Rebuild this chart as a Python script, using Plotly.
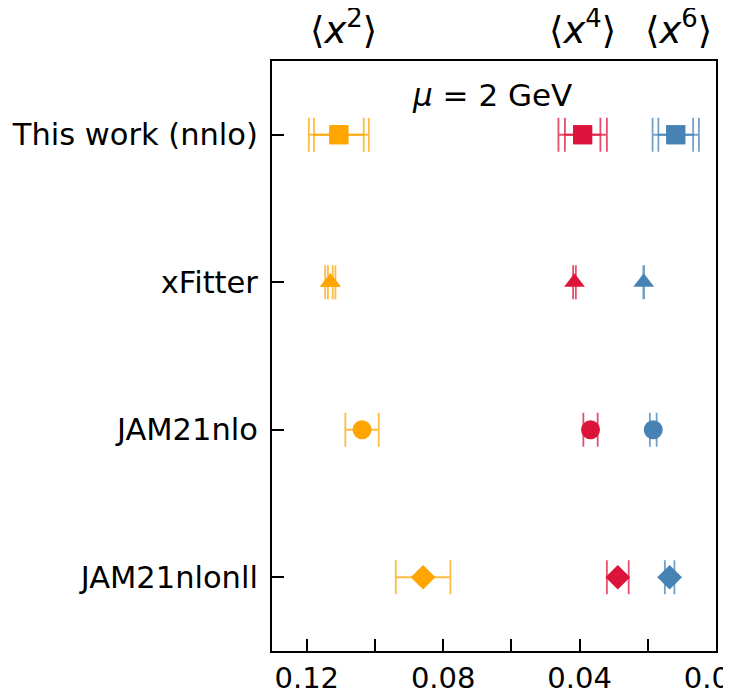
import plotly.graph_objects as go

methods = ["This work (nnlo)", "xFitter", "JAM21nlo", "JAM21nlonll"]
symbols = ["square", "triangle-up", "circle", "diamond"]
sizes = [19, 18, 19, 19]

x2 = [0.1106, 0.1131, 0.1038, 0.0859]
x2_err = [0.0088, 0.0015, 0.0049, 0.0080]
x2_err_in = [0.0073, 0.0007, None, None]

x4 = [0.0391, 0.0415, 0.0368, 0.0288]
x4_err = [0.0071, 0.0004, 0.0021, 0.0032]
x4_err_in = [0.0052, None, None, None]

x6 = [0.0118, 0.0212, 0.0184, 0.0136]
x6_err = [0.0068, 0.0001, 0.0010, 0.0014]
x6_err_in = [0.0051, None, None, None]

xticks = [0.12, 0.10, 0.08, 0.06, 0.04, 0.02, 0.00]
xticktext = ["0.12", "", "0.08", "", "0.04", "", "0.00"]

moments = [
    ("x2", x2, x2_err, x2_err_in, "#FFA500", "rgba(255,165,0,0.75)"),
    ("x4", x4, x4_err, x4_err_in, "#DC143C", "rgba(220,20,60,0.75)"),
    ("x6", x6, x6_err, x6_err_in, "#4682B4", "rgba(70,130,180,0.75)"),
]

ypos = list(range(len(methods)))

fig = go.Figure()
for name, vals, err, err_in, col, ecol in moments:
    fig.add_trace(go.Scatter(
        x=vals, y=ypos, mode="markers", showlegend=False,
        marker=dict(symbol=symbols, size=sizes, color=col, opacity=1,
                    line=dict(width=0)),
        error_x=dict(type="data", array=err, symmetric=True, color=ecol,
                     thickness=1.8, width=17),
    ))
    idx = [i for i, e in enumerate(err_in) if e is not None]
    fig.add_trace(go.Scatter(
        x=[vals[i] for i in idx], y=[ypos[i] for i in idx], mode="markers",
        showlegend=False,
        marker=dict(symbol=[symbols[i] for i in idx], size=[sizes[i] for i in idx],
                    color=col, opacity=1, line=dict(width=0)),
        error_x=dict(type="data", array=[err_in[i] for i in idx], symmetric=True,
                     color=ecol, thickness=1.8, width=17),
    ))

font_fam = "DejaVu Sans"
labels = [("⟨<i>x</i><sup>2</sup>⟩", 0.1093), ("⟨<i>x</i><sup>4</sup>⟩", 0.0392),
          ("⟨<i>x</i><sup>6</sup>⟩", 0.0110)]
for txt, xv in labels:
    fig.add_annotation(x=xv, xref="x", y=1.057, yref="paper", text=txt,
                       showarrow=False, yanchor="middle",
                       font=dict(family=font_fam, size=37, color="black"))
fig.add_annotation(x=0.0658, xref="x", y=0.942, yref="paper",
                   text="<i>μ</i> = 2 GeV", showarrow=False, yanchor="middle",
                   font=dict(family=font_fam, size=31, color="black"))

# page body has an 8px default margin; compensate so the plot box lands
# where it is in the reference
fig.update_layout(
    width=723, height=684,
    margin=dict(l=264, r=15, t=53, b=41, autoexpand=False),
    paper_bgcolor="white", plot_bgcolor="white",
    font=dict(family=font_fam, size=30, color="black"),
)
fig.update_xaxes(
    range=[0.1302, 0.0], tickvals=xticks, ticktext=xticktext,
    ticks="inside", ticklen=12, tickwidth=2, tickcolor="black",
    showline=True, linewidth=2, linecolor="black", mirror=True,
    showgrid=False, zeroline=False, automargin=False,
    tickfont=dict(size=29), ticklabelstandoff=0, ticklabeloverflow="allow",
)
fig.update_yaxes(
    range=[3.5, -0.5], tickvals=ypos, ticktext=methods,
    ticks="inside", ticklen=12, tickwidth=2, tickcolor="black",
    showline=True, linewidth=2, linecolor="black", mirror=True,
    showgrid=False, zeroline=False, automargin=False,
    tickfont=dict(size=30.5), ticklabelstandoff=6,
)

fig.write_html("out.html")
